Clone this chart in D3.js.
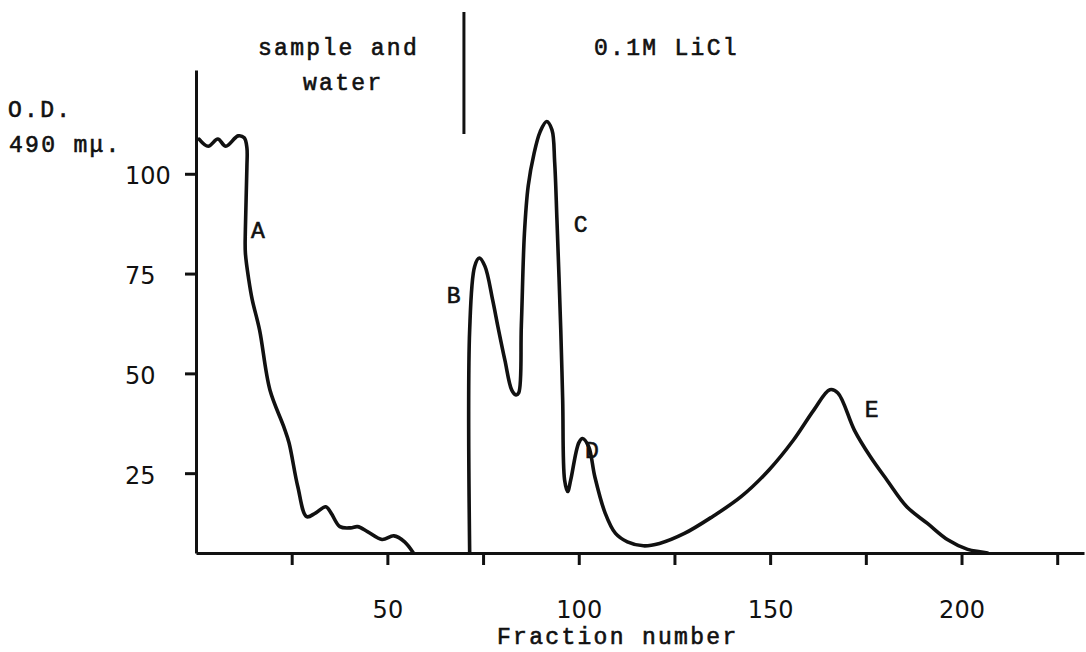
<!DOCTYPE html>
<html>
<head>
<meta charset="utf-8">
<script src="https://cdn.jsdelivr.net/npm/d3@7"></script>
<style>
  html, body { margin: 0; padding: 0; background: #fff; }
  svg { display: block; }
  .tw { font-family: "Liberation Mono", "DejaVu Sans Mono", monospace; font-size: 23px; letter-spacing: 2.3px; fill: #111; stroke: #111; stroke-width: 0.6px; }
</style>
</head>
<body>
<svg id="chart" width="1086" height="652"></svg>
<script>
// ---- Data ----
// Peak A: sample and water elution
const leftFraction = [0.8, 3.2, 5.7, 7.8, 11.0, 12.6, 13.3, 13.3, 12.9, 12.9, 13.8, 14.7, 16.6, 19.3, 22.9, 24.3, 26.6, 28.9, 31.2, 33.9, 35.3, 37.6, 40.4, 42.2, 44.9, 48.6, 51.7, 54.5, 56.8];
const leftOD       = [108.7, 106.9, 108.7, 106.9, 109.5, 109.0, 106.5, 101.7, 86, 80.2, 73.4, 68.4, 60.9, 45.9, 36.7, 32.6, 21.6, 14.1, 15.0, 16.6, 15.0, 11.6, 11.3, 11.6, 10.3, 8.4, 9.3, 7.8, 5];
// Peaks B–E: 0.1M LiCl elution
const rightFraction = [71.5, 71.5, 72.8, 74.0, 75.5, 77.5, 78.9, 80.7, 82.5, 83.6, 84.3, 85.0, 85.8, 86.8, 88.3, 89.9, 91.6, 93.0, 93.7, 94.3, 95.3, 95.8, 96.3, 97.1, 97.9, 100, 101, 102.6, 104.2, 106.9, 109.6, 112.7, 116.9, 121.1, 127.6, 134.9, 142.4, 149.7, 156.1, 161.4, 165.6, 167.7, 172, 176.2, 180.5, 185.7, 191.1, 196.4, 201.6, 204.8, 206.8];
const rightOD       = [5, 60.9, 76.8, 78.9, 76.8, 68.4, 61.6, 53.3, 45.8, 44.6, 45.1, 62, 85, 97, 105, 110.5, 113.1, 111, 103, 88.5, 60.9, 43.3, 23.3, 20.4, 23.3, 32.6, 33.7, 31.6, 24.1, 15, 9.9, 7.8, 6.8, 7.4, 9.9, 14.1, 19.1, 25.8, 33.3, 40.8, 45.9, 45.1, 35.8, 29.1, 23.3, 16.6, 12.4, 8.3, 5.9, 5.3, 5];
const yTicks = [25, 50, 75, 100];
const xTicks = [25, 50, 75, 100, 125, 150, 175, 200, 225];
const xTickLabels = ["", "50", "", "100", "", "150", "", "200", ""];
const peakNames = ["A", "B", "C", "D", "E"];
const peakFraction = [14.4, 65.5, 98.7, 101.6, 174.7];
const peakOD = [83.9, 67.6, 85.4, 28.8, 39.1];
const phaseBreak = [70]; // fraction where eluent changes

// ---- Scales ----
const svg = d3.select("#chart");
const x = d3.scaleLinear().domain([0, 232]).range([196, 1084]);
const y = d3.scaleLinear().domain([5, 126]).range([553, 70]);

const ink = "#111";

// Y axis
const yAxis = d3.axisLeft(y).tickValues(yTicks).tickSize(11).tickSizeOuter(0).tickPadding(0);
const gy = svg.append("g").attr("transform", `translate(${x(0)},0)`).call(yAxis);
gy.select(".domain").attr("stroke", ink).attr("stroke-width", 3);
gy.selectAll(".tick line").attr("stroke", ink).attr("stroke-width", 3);
gy.selectAll(".tick text")
  .attr("text-anchor", "start")
  .attr("x", -71)
  .attr("dy", "0.42em")
  .style("font-size", "24px")
  .style("font-family", "DejaVu Sans, Noto Sans, sans-serif")
  .attr("fill", ink);

// X axis
const xAxis = d3.axisBottom(x).tickValues(xTicks).tickSize(12).tickSizeOuter(0).tickPadding(36)
  .tickFormat((d, i) => xTickLabels[i]);
const gx = svg.append("g").attr("transform", `translate(0,${y(5)})`).call(xAxis);
gx.select(".domain").attr("stroke", ink).attr("stroke-width", 3);
gx.selectAll(".tick line").attr("stroke", ink).attr("stroke-width", 3);
gx.selectAll(".tick text")
  .style("font-size", "24px")
  .style("font-family", "DejaVu Sans, Noto Sans, sans-serif")
  .attr("fill", ink);

// Curves
const line = d3.line().x(d => x(d[0])).y(d => y(d[1])).curve(d3.curveCatmullRom.alpha(0.5));
const leftPts = leftFraction.map((f, i) => [f, leftOD[i]]);
const rightPts = rightFraction.map((f, i) => [f, rightOD[i]]);
[leftPts, rightPts].forEach(pts => {
  svg.append("path").datum(pts).attr("d", line)
    .attr("fill", "none").attr("stroke", ink).attr("stroke-width", 3.6)
    .attr("stroke-linejoin", "round").attr("stroke-linecap", "round");
});

// Divider between elution phases
svg.append("line")
  .attr("x1", x(phaseBreak[0])).attr("x2", x(phaseBreak[0]))
  .attr("y1", 12).attr("y2", 134)
  .attr("stroke", ink).attr("stroke-width", 3);

// Peak labels
peakNames.forEach((n, i) => {
  svg.append("text").attr("class", "tw")
    .attr("x", x(peakFraction[i])).attr("y", y(peakOD[i]))
    .text(n);
});

// Header / axis texts
const texts = [
  ["sample and", 258, 55],
  ["water", 303, 90],
  ["0.1M LiCl", 594, 55],
  ["O.D.", 8, 117],
  ["490 mμ.", 9, 152],
  ["Fraction number", 497, 644]
];
texts.forEach(t => {
  svg.append("text").attr("class", "tw").attr("x", t[1]).attr("y", t[2]).text(t[0]);
});
</script>
</body>
</html>
